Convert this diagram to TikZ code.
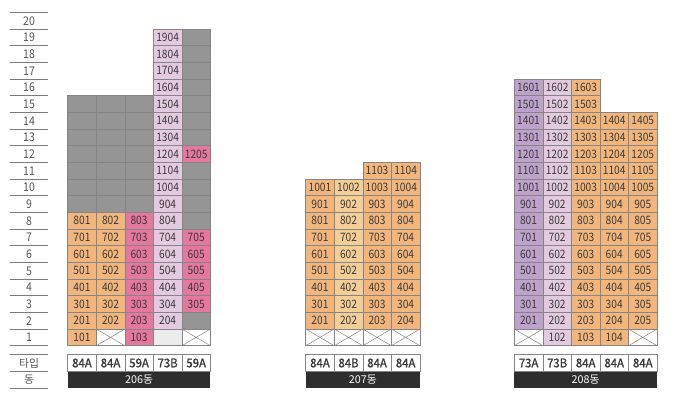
\documentclass[tikz,border=0pt]{standalone}
\usepackage{fontspec}
\setmainfont{Noto Sans CJK KR}
\newfontfamily\krfont[FakeStretch=0.88]{Noto Sans CJK KR}
\newfontfamily\krbold[FakeBold=1.3,FakeStretch=0.95]{Noto Sans CJK KR}
\newfontfamily\axfont{Noto Sans CJK KR}
\definecolor{orng}{HTML}{F2B67D}
\definecolor{lorng}{HTML}{F5CE97}
\definecolor{pnk}{HTML}{E6779F}
\definecolor{lil}{HTML}{E3CADF}
\definecolor{prp}{HTML}{BDA3CC}
\definecolor{gry}{HTML}{959595}
\definecolor{lgry}{HTML}{ECECEC}
\definecolor{cellline}{HTML}{858585}
\definecolor{txt}{HTML}{3A3A3A}
\definecolor{barc}{HTML}{2E2E2E}
\definecolor{axisline}{HTML}{7A7A7A}
\definecolor{axistxt}{HTML}{555555}
\newcommand\cellfs{\krfont\fontsize{11.6}{12}\selectfont}
\newcommand\typefs{\krbold\fontsize{12}{13}\selectfont}
\newcommand\barfs{\axfont\fontsize{10.8}{12}\selectfont}
\newcommand\axfs{\krfont\fontsize{12}{13}\selectfont}
\newcommand\bcell[6]{\node[cellbox,fill=#5] (#1) at ({#2+(#3-0.5)*28.55},{12.3+(20-#4)*16.67+8.335}) {#6};}
\newcommand\xcell[4]{\bcell{#1}{#2}{#3}{#4}{white}{}\draw[xline] (#1.north west) -- (#1.south east) (#1.south west) -- (#1.north east);}
\newcommand\tcell[4]{\node[typebox] (#1) at ({#2+(#3-0.5)*28.55},363) {#4};}
\tikzset{
  cellbox/.style={draw=cellline, line width=0.5pt, minimum width=28.55pt, minimum height=16.67pt, inner sep=0pt, outer sep=0pt, font=\cellfs, text=txt},
  xline/.style={draw=cellline, line width=0.5pt},
  typebox/.style={draw=cellline, line width=0.5pt, fill=white, minimum width=28.55pt, minimum height=17.4pt, inner sep=0pt, outer sep=0pt, font=\typefs, text=txt},
  barbox/.style={fill=barc, minimum height=16.6pt, inner sep=0pt, outer sep=0pt, font=\barfs, text=white},
  axisl/.style={draw=axisline, line width=0.8pt},
  axist/.style={font=\axfs, text=axistxt, inner sep=0pt}
}
\begin{document}
\begin{tikzpicture}[x=1pt,y=-1pt]
\useasboundingbox (0,0) rectangle (675,397);
\fill[white] (0,0) rectangle (675,397);
% axis
\foreach \k in {0,...,20} {\draw[axisl] (10,{12.3+\k*16.67}) -- (48,{12.3+\k*16.67});}
\foreach \f in {1,...,20} {\node[axist] (ax\f) at (29,{12.3+(20-\f)*16.67+8.6}) {\f};}
\draw[axisl] (10,354.3) -- (48,354.3);
\draw[axisl] (10,371.7) -- (48,371.7);
\draw[axisl] (10,388.3) -- (48,388.3);
\node[axist, font=\barfs] (axtype) at (29,363) {타입};
\node[axist, font=\barfs] (axdong) at (29,380) {동};
% ---- 206
\bcell{a1-1}{67.7}{1}{1}{orng}{101}
\xcell{a2-1}{67.7}{2}{1}
\bcell{a3-1}{67.7}{3}{1}{pnk}{103}
\bcell{a4-1}{67.7}{4}{1}{lgry}{}
\xcell{a5-1}{67.7}{5}{1}
\foreach \c/\cc in {1/orng,2/orng,3/pnk} {\foreach \f in {2,...,8} {\pgfmathtruncatemacro\n{\f*100+\c}\bcell{a\c-\f}{67.7}{\c}{\f}{\cc}{\n}}}
\foreach \c in {1,2,3} {\foreach \f in {9,...,15} {\bcell{a\c-\f}{67.7}{\c}{\f}{gry}{}}}
\foreach \f in {2,...,19} {\pgfmathtruncatemacro\n{\f*100+4}\bcell{a4-\f}{67.7}{4}{\f}{lil}{\n}}
\foreach \f in {2,8,9,10,11,13,14,15,16,17,18,19} {\bcell{a5-\f}{67.7}{5}{\f}{gry}{}}
\foreach \f in {3,...,7} {\pgfmathtruncatemacro\n{\f*100+5}\bcell{a5-\f}{67.7}{5}{\f}{pnk}{\n}}
\bcell{a5-12}{67.7}{5}{12}{pnk}{1205}
\tcell{ta1}{67.7}{1}{84A}\tcell{ta2}{67.7}{2}{84A}\tcell{ta3}{67.7}{3}{59A}\tcell{ta4}{67.7}{4}{73B}\tcell{ta5}{67.7}{5}{59A}
\node[barbox, minimum width=142.75pt] (bara) at ({67.7+71.375},380) {206동};
% ---- 207
\foreach \c in {1,...,4} {\xcell{b\c-1}{305.7}{\c}{1}}
\foreach \c/\cc/\t in {1/orng/10,2/lorng/10,3/orng/11,4/orng/11} {\foreach \f in {2,...,\t} {\pgfmathtruncatemacro\n{\f*100+\c}\bcell{b\c-\f}{305.7}{\c}{\f}{\cc}{\n}}}
\tcell{tb1}{305.7}{1}{84A}\tcell{tb2}{305.7}{2}{84B}\tcell{tb3}{305.7}{3}{84A}\tcell{tb4}{305.7}{4}{84A}
\node[barbox, minimum width=114.2pt] (barb) at ({305.7+57.1},380) {207동};
% ---- 208
\xcell{c1-1}{514.3}{1}{1}
\xcell{c5-1}{514.3}{5}{1}
\foreach \c/\cc/\t/\b in {1/prp/16/2,2/lil/16/1,3/orng/16/1,4/orng/14/1,5/orng/14/2} {\foreach \f in {\b,...,\t} {\pgfmathtruncatemacro\n{\f*100+\c}\bcell{c\c-\f}{514.3}{\c}{\f}{\cc}{\n}}}
\tcell{tc1}{514.3}{1}{73A}\tcell{tc2}{514.3}{2}{73B}\tcell{tc3}{514.3}{3}{84A}\tcell{tc4}{514.3}{4}{84A}\tcell{tc5}{514.3}{5}{84A}
\node[barbox, minimum width=142.75pt] (barc) at ({514.3+71.375},380) {208동};
\end{tikzpicture}
\end{document}
